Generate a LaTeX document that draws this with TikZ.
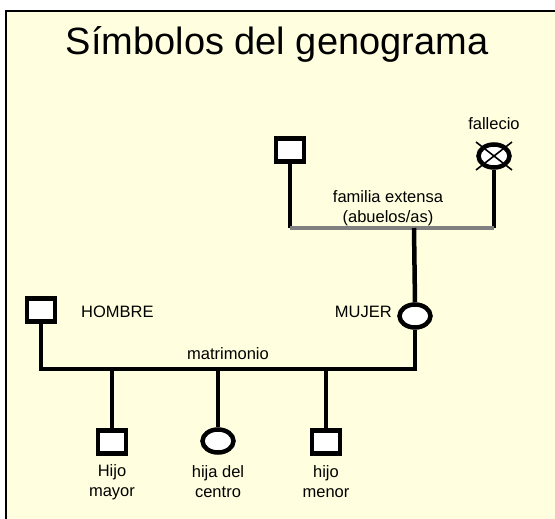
\documentclass[tikz,border=0pt]{standalone}
\usepackage{fontspec}
\setmainfont{Liberation Sans}
\usetikzlibrary{shapes.geometric,calc}
\definecolor{bgyellow}{HTML}{FFFFE0}
\definecolor{linegray}{HTML}{808080}
\begin{document}
\begin{tikzpicture}[x=1pt,y=-1pt,
  sq/.style={draw=black,fill=white,line width=4.5pt,rectangle,minimum width=28pt,minimum height=23pt,inner sep=0pt},
  fem/.style={draw=black,fill=white,line width=4.5pt,ellipse,minimum width=31pt,minimum height=23pt,inner sep=0pt},
  lnk/.style={draw=black,line width=4.5pt},
  txt/.style={font=\fontsize{16.5}{20}\selectfont,inner sep=0pt,align=center},
  ]
\useasboundingbox (0,0) rectangle (555,519);
\fill[bgyellow] (6,11) rectangle (560,525);
\draw[black,line width=1.8pt] (6,525) -- (6,11) -- (560,11);
\node[font=\fontsize{38}{44}\selectfont,inner sep=0pt] (title) at (277,44) {Símbolos del genograma};

% grandparents
\node[sq] (abuelo) at (290,150) {};
\node[fem] (abuela) at (494,156) {};
\draw[black,line width=1.6pt] ($(abuela.center)+(-18,-14)$) -- ($(abuela.center)+(18,14)$);
\draw[black,line width=1.6pt] ($(abuela.center)+(18,-14)$) -- ($(abuela.center)+(-18,14)$);
\node[txt] (fall) at (494,124) {fallecio};
\coordinate (gl) at (290,228);
\coordinate (gr) at (494,228);
\coordinate (gm) at (414,228);
\draw[lnk] (abuelo.south) -- (gl);
\draw[lnk] (abuela.south) -- (gr);
\draw[draw=linegray,line width=4pt] (gl) -- (gr);
\node[txt] (fext) at (388,197) {familia extensa};
\node[txt] (abu) at (388,218) {(abuelos/as)};

% couple
\node[sq] (hombre) at (41,310) {};
\node[fem] (mujer) at (415,316) {};
\draw[lnk] (gm) -- (mujer.north);
\node[txt,anchor=west] (thombre) at (81,312) {HOMBRE};
\node[txt,anchor=east] (tmujer) at (392,312) {MUJER};
\coordinate (mr) at (415,369);
\draw[lnk,line join=miter] (hombre.south) |- (mr) -- (mujer.south);
\node[txt] (matr) at (228,354) {matrimonio};

% children
\node[sq] (c1) at (112,442) {};
\node[fem] (c2) at (218,441) {};
\node[sq] (c3) at (326,442) {};
\draw[lnk] (c1 |- mr) -- (c1.north);
\draw[lnk] (c2 |- mr) -- (c2.north);
\draw[lnk] (c3 |- mr) -- (c3.north);
\node[txt] (l1) at (112,482) {Hijo\\mayor};
\node[txt] (l2) at (218,482) {hija del\\centro};
\node[txt] (l3) at (326,482) {hijo\\menor};
\end{tikzpicture}
\end{document}
